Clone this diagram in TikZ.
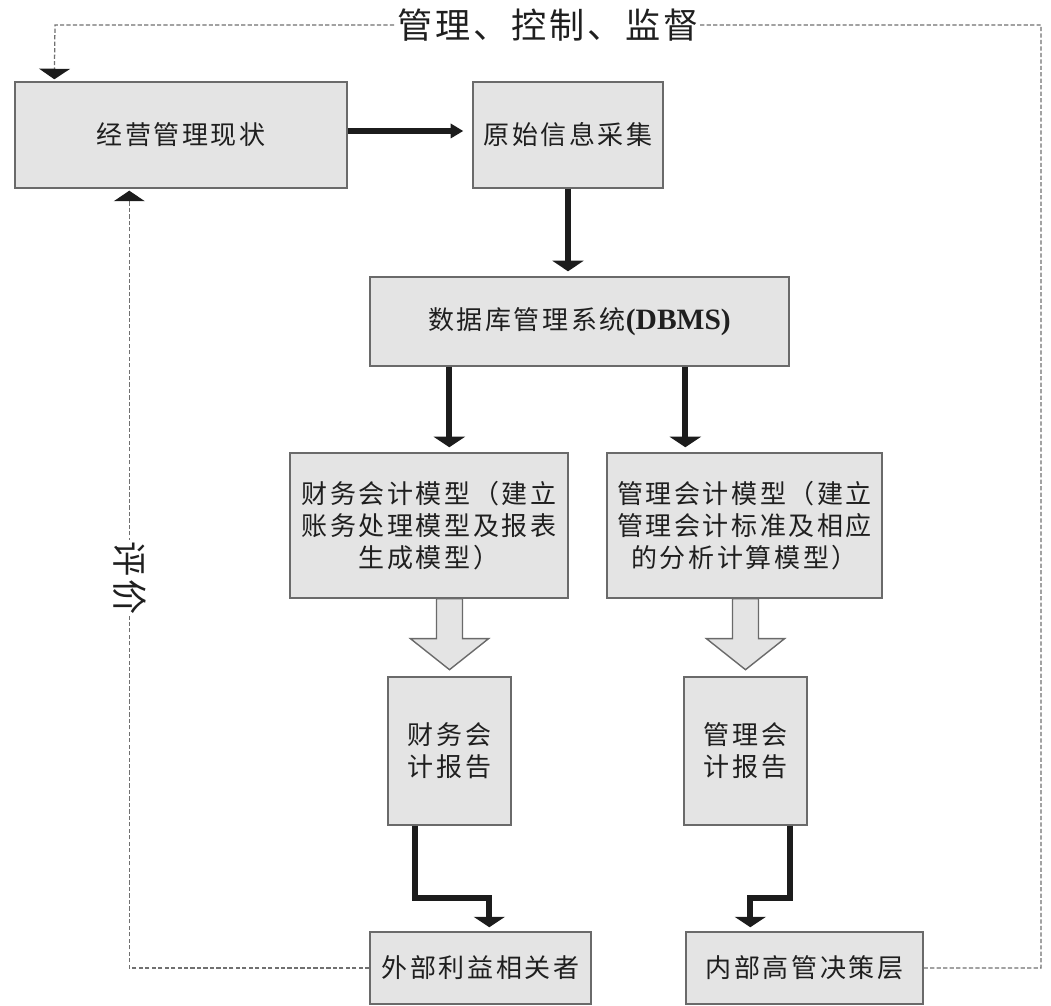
\documentclass[tikz,border=0pt]{standalone}
\usepackage{fontspec}
\setmainfont{Liberation Serif}
\newfontfamily\cjk[LetterSpace=10]{Noto Sans CJK SC}
\newfontfamily\cjkbig[LetterSpace=8]{Noto Sans CJK SC}
\usepackage{xcolor}
\usepackage{tikz}
\usetikzlibrary{positioning}
\usepgflibrary{arrows.meta}
\definecolor{boxfill}{HTML}{E4E4E4}
\definecolor{boxline}{HTML}{6A6A6A}
\definecolor{dashline}{HTML}{707070}
\definecolor{ink}{HTML}{1C1C1C}

\begin{document}
\begin{tikzpicture}[
        box/.style={draw=boxline, fill=boxfill, line width=1pt, inner sep=0pt, align=center, text=black!88, font=\cjk\fontsize{18.5}{23}\selectfont},
        flow/.style={draw=ink, line width=4.2pt, -{Triangle[width=22pt,length=7.5pt]}},
        fb/.style={draw=dashline, line width=0.9pt, dash pattern=on 3pt off 1.6pt, -{Triangle[width=22pt,length=7.5pt,color=ink]}},
        hollow/.style={draw=boxline, fill=boxfill, line width=1pt},
        tag/.style={fill=white, inner sep=1pt, text=black!88, font=\cjkbig\fontsize{25}{29}\selectfont}]
      \useasboundingbox (0,0) rectangle (26.275,25.15);
      \node[box, minimum width=8.3cm, minimum height=2.65cm] (state) at (4.525,21.775) {经营管理现状};
      \node[box, minimum width=4.75cm, minimum height=2.65cm] (collect) at (14.2,21.775) {原始信息采集};
      \node[box, minimum width=10.475cm, minimum height=2.225cm] (dbms) at (14.4875,17.1125) {数据库管理系统{\rmfamily\bfseries\fontsize{21}{24}\selectfont (DBMS)}};
      \node[box, minimum width=6.95cm, minimum height=3.625cm] (finmodel) at (10.725,12.0125) {财务会计模型（建立\\账务处理模型及报表\\生成模型）};
      \node[box, minimum width=6.875cm, minimum height=3.625cm] (mgtmodel) at (18.6125,12.0125) {管理会计模型（建立\\管理会计标准及相应\\的分析计算模型）};
      \node[box, minimum width=3.075cm, minimum height=3.7cm] (finrep) at (11.2375,6.375) {财务会\\计报告};
      \node[box, minimum width=3.075cm, minimum height=3.7cm] (mgtrep) at (18.6375,6.375) {管理会\\计报告};
      \node[box, minimum width=5.525cm, minimum height=1.8cm] (outside) at (12.0125,0.95) {外部利益相关者};
      \node[box, minimum width=5.925cm, minimum height=1.8cm] (board) at (20.1125,0.95) {内部高管决策层};

      \draw[flow, -{Triangle[width=10pt,length=9pt]}, shorten >=0.225cm] ([yshift=0.1cm]state.east) -- ([yshift=0.1cm]state.east -| collect.west);
      \draw[flow, shorten >=0.125cm] (collect.south) -- (collect.south |- dbms.north);
      \draw[flow, shorten >=0.125cm] ([xshift=2cm]dbms.south west) -- ([xshift=2cm]dbms.south west |- finmodel.north);
      \draw[flow, shorten >=0.125cm] ([xshift=7.9cm]dbms.south west) -- ([xshift=7.9cm]dbms.south west |- mgtmodel.north);
      \foreach \src/\dst in {finmodel/finrep, mgtmodel/mgtrep}
        \draw[hollow] (\src.south -| \dst.north) ++(-0.325,0) -- ++(0,-1) -- ++(-0.65,0) -- ++(0.975,-0.775) -- ++(0.975,0.775) -- ++(-0.65,0) -- ++(0,1) -- cycle;
      \draw[flow, shorten >=0.1cm] ([xshift=0.7cm]finrep.south west) -- ++(0,-1.8) -| ([xshift=3cm]outside.north west);
      \draw[flow, shorten >=0.1cm] ([xshift=-0.45cm]mgtrep.south east) -- ++(0,-1.8) -| ([xshift=1.625cm]board.north west);

      % feedback loops
      \coordinate (topright) at (26.025,24.525);
      \coordinate (topleft) at (1.375,24.525);
      \draw[fb, shorten >=0.05cm] (board.east) -| (topright) -- node[tag] (ctrl) {管理、控制、监督} (topleft) -- ([xshift=1cm]state.north west);
      \draw[fb, shorten >=0.05cm] (outside.west) -| node[tag, pos=0.75, rotate=-90] (eval) {评价} ([xshift=2.875cm]state.south west);
\end{tikzpicture}
\end{document}
